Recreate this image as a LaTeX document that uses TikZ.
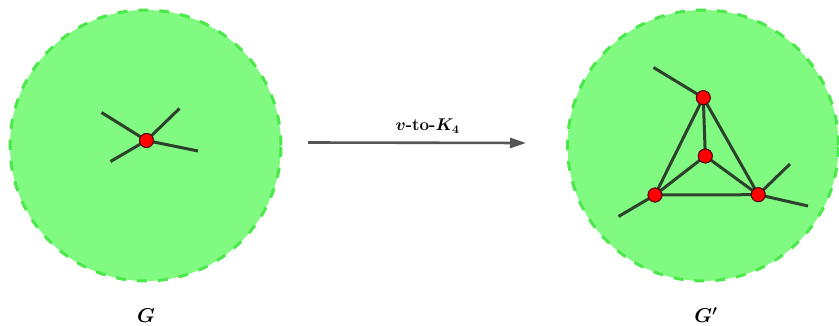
\RequirePackage{fix-cm}
\documentclass[tikz,border=0pt]{standalone}
\usepackage{amsmath}
\usetikzlibrary{arrows.meta}
\definecolor{gfill}{RGB}{128,250,128}
\definecolor{gline}{RGB}{75,232,75}
\definecolor{edgec}{RGB}{45,65,45}
\definecolor{arrc}{RGB}{85,85,85}
\tikzset{
  region/.style={circle, fill=gfill, draw=gline, line width=3pt, dash pattern=on 10pt off 11pt, minimum size=271pt, inner sep=0pt},
  vtx/.style={circle, fill=red, draw=black!75!red, line width=0.8pt, minimum size=14pt, inner sep=0pt},
  edg/.style={draw=edgec, line width=3pt},
  lbl/.style={font=\boldmath\fontsize{20}{24}\selectfont, inner sep=0pt, anchor=base},
}
\begin{document}
\begin{tikzpicture}[x=1pt,y=-1pt]
\useasboundingbox (0,0) rectangle (839,326);
\node[region] (L) at (145.5,145.5) {};
\node[region] (R) at (703,145.5) {};
% left graph
\coordinate (a1) at (101.5,112.5);
\coordinate (a2) at (179.5,108.5);
\coordinate (a3) at (110.5,161.5);
\coordinate (a4) at (198,151);
\node[vtx] (v) at (146.5,140.5) {};
\draw[edg] (v.center) -- (a1) (v.center) -- (a2) (v.center) -- (a3) (v.center) -- (a4);
\node[vtx] at (v) {};
% right graph
\coordinate (b1) at (653.5,67.5);
\coordinate (b2) at (618.5,216.5);
\coordinate (b3) at (790,164);
\coordinate (b4) at (808,206);
\node[vtx] (t) at (703.3,97.7) {};
\node[vtx] (c) at (705.3,156) {};
\node[vtx] (l) at (655,195) {};
\node[vtx] (r) at (758.3,194.7) {};
\draw[edg] (t.center) -- (b1) (l.center) -- (b2) (r.center) -- (b3) (r.center) -- (b4)
  (t.center) -- (c.center) (t.center) -- (l.center) (t.center) -- (r.center)
  (c.center) -- (l.center) (c.center) -- (r.center) (l.center) -- (r.center);
\node[vtx] at (t) {};
\node[vtx] at (c) {};
\node[vtx] at (l) {};
\node[vtx] at (r) {};
% arrow
\coordinate (s) at (308,142.5);
\coordinate (e) at (526,143);
\draw[draw=arrc, line width=2.6pt, -{Triangle[length=16pt,width=10pt]}] (s) -- (e);
\node[font=\boldmath\fontsize{17}{20}\selectfont, inner sep=0pt, anchor=base] (arrlbl) at (427.5,131) {$v$\textbf{-to-}$K_4$};
\node[lbl] (gl) at (146,323) {$G$};
\node[lbl] (gr) at (706,323) {$G'$};
\end{tikzpicture}
\end{document}
